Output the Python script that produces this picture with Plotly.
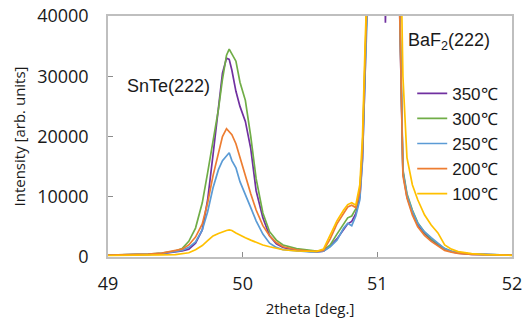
import plotly.graph_objects as go

two_theta = [49.0, 49.1, 49.2, 49.3, 49.4, 49.5, 49.55, 49.6, 49.65, 49.7, 49.74, 49.78, 49.82, 49.85, 49.88, 49.9,
             49.92, 49.95, 49.98, 50.02, 50.06, 50.1, 50.15, 50.2, 50.25, 50.3, 50.4, 50.5, 50.55, 50.6, 50.65, 50.7,
             50.75, 50.78, 50.81, 50.84, 50.87, 50.89, 50.91, 50.93, 50.96, 51.0, 51.04, 51.055, 51.06, 51.065, 51.08,
             51.12, 51.15, 51.17, 51.19, 51.22, 51.26, 51.3, 51.35, 51.4, 51.45, 51.5, 51.55, 51.6, 51.7, 51.8, 51.9, 52.0]

i_350 = [300, 330, 380, 450, 550, 800, 1000, 1300, 2300, 4500, 9500, 17000, 25000, 30500, 33000, 32800,
         31000, 27500, 25000, 22500, 18000, 11000, 6500, 3500, 2200, 1600, 1100, 900, 850, 950, 1800, 3000,
         4600, 5500, 5900, 7200, 10000, 16500, 31000, 52000, 85000, 120000, 90000, 50000, 38900, 50000, 100000,
         105000, 58000, 37000, 14000, 10000, 7300, 5400, 3900, 2900, 2000, 1300, 900, 650, 450, 380, 330, 300]

i_300 = [300, 350, 400, 500, 650, 1000, 1400, 2600, 4800, 9000, 14000, 19400, 24500, 29500, 33500, 34500,
         33600, 32500, 29000, 26000, 20000, 13000, 7300, 4200, 2800, 2000, 1400, 1100, 1000, 1100, 2000, 3800,
         5500, 6500, 6800, 8000, 11000, 18000, 33000, 55000, 90000, 130000, 140000, 140000, 140000, 140000, 140000,
         110000, 60000, 38000, 14500, 10500, 7800, 5700, 4100, 3000, 2200, 1400, 950, 700, 500, 400, 350, 300]

i_250 = [300, 330, 380, 450, 600, 900, 1100, 1600, 2500, 4500, 7500, 11500, 14500, 16000, 16800, 17300,
         16000, 14800, 12500, 10500, 8200, 6000, 3800, 2300, 1600, 1200, 1000, 850, 850, 950, 1700, 2800,
         4800, 5600, 5200, 6800, 9500, 16000, 31000, 52000, 86000, 125000, 135000, 135000, 135000, 135000, 135000,
         105000, 58000, 37500, 14200, 10300, 7600, 5600, 4200, 3200, 2300, 1400, 950, 700, 480, 390, 340, 300]

i_200 = [300, 350, 400, 500, 650, 1000, 1300, 2000, 3300, 5500, 9000, 13500, 17500, 20000, 21300, 20800,
         20300, 18800, 16500, 13500, 10500, 7800, 5200, 3500, 2400, 1700, 1200, 1000, 950, 1100, 3000, 5500,
         7300, 8300, 8600, 8200, 10800, 18000, 34000, 56000, 90000, 130000, 140000, 140000, 140000, 140000, 140000,
         105000, 57000, 36500, 13500, 9800, 7000, 5000, 3600, 2600, 1800, 1100, 800, 600, 450, 380, 330, 300]

i_100 = [250, 250, 280, 300, 350, 400, 500, 700, 1200, 1900, 2700, 3500, 3900, 4200, 4400, 4500,
         4400, 4000, 3600, 3200, 2800, 2400, 2000, 1700, 1400, 1200, 1000, 900, 950, 1300, 3700, 6000,
         7800, 8700, 9000, 8600, 12000, 20000, 36000, 60000, 95000, 135000, 145000, 145000, 145000, 145000, 145000,
         120000, 80000, 60000, 30000, 16500, 12000, 9500, 7000, 5300, 4000, 2000, 1300, 900, 550, 400, 300, 280]

series_names = ["350℃", "300℃", "250℃", "200℃", "100℃"]
series_values = [i_350, i_300, i_250, i_200, i_100]
series_colors = ["#7030A0", "#70AD47", "#5B9BD5", "#ED7D31", "#FFC000"]

x_ticks = [49, 50, 51, 52]
y_ticks = [0, 10000, 20000, 30000, 40000]

fig = go.Figure()
for name, vals, col in zip(series_names, series_values, series_colors):
    fig.add_trace(go.Scatter(x=two_theta, y=vals, mode="lines", name=name,
                             line=dict(color=col, width=1.7)))

axis_font = dict(family="Open Sans", size=18, color="#1a1a1a")
fig.update_layout(
    width=523, height=320,
    margin=dict(l=108, r=11, t=16, b=63),
    paper_bgcolor="white", plot_bgcolor="white",
    showlegend=True,
    legend=dict(x=0.753, y=0.752, xanchor="left", yanchor="top",
                font=dict(family="Liberation Sans", size=17, color="#1a1a1a"),
                bgcolor="rgba(0,0,0,0)", itemwidth=30, tracegroupgap=0),
    xaxis=dict(range=[49, 52], tickvals=x_ticks, ticktext=[str(v) for v in x_ticks],
               ticks="inside", ticklen=5, tickcolor="#8C8C8C", automargin=False,
               showline=True, linecolor="#BFBFBF", linewidth=1.5, mirror=True,
               showgrid=False, zeroline=False, tickfont=axis_font, ticklabelstandoff=10,
               title=dict(text="2theta [deg.]", font=dict(family="Open Sans", size=15, color="#1a1a1a"),
                          standoff=9)),
    yaxis=dict(range=[0, 40000], tickvals=y_ticks, ticktext=[str(v) for v in y_ticks],
               ticks="inside", ticklen=5, tickcolor="#8C8C8C", automargin=False,
               showline=True, linecolor="#BFBFBF", linewidth=1.5, mirror=True,
               showgrid=False, zeroline=False, tickfont=axis_font, ticklabelstandoff=14,
               title=dict(text="Intensity [arb. units]", font=dict(family="Open Sans", size=15, color="#1a1a1a"),
                          standoff=8)),
    annotations=[
        dict(x=49.125, y=28300, xref="x", yref="y", text="SnTe(222)", showarrow=False,
             xanchor="left", yanchor="middle",
             font=dict(family="Liberation Sans", size=18, color="#1a1a1a")),
        dict(x=51.215, y=35700, xref="x", yref="y", text="BaF<sub>2</sub>(222)", showarrow=False,
             xanchor="left", yanchor="middle",
             font=dict(family="Liberation Sans", size=18, color="#1a1a1a")),
    ],
)

fig.write_html("out.html", config={"displayModeBar": False},
               post_script="document.body.style.margin='0';")
